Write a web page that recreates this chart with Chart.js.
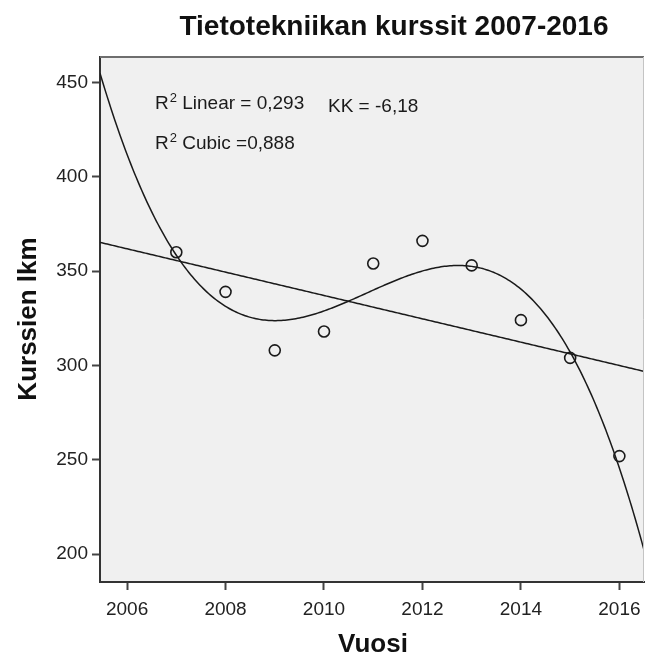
<!DOCTYPE html>
<html>
<head>
<meta charset="utf-8">
<script src="https://cdn.jsdelivr.net/npm/chart.js@4/dist/chart.umd.min.js"></script>
<style>
  html, body { margin: 0; padding: 0; background: #ffffff; overflow: hidden; }
  #wrap { width: 645px; height: 662px; }
</style>
</head>
<body>
<div id="wrap"><canvas id="c" width="645" height="662"></canvas></div>
<script>
// ---- Data ----
const years   = [2007, 2008, 2009, 2010, 2011, 2012, 2013, 2014, 2015, 2016];
const courses = [360, 339, 308, 318, 354, 366, 353, 324, 304, 252];
const xTicks  = [2006, 2008, 2010, 2012, 2014, 2016];
const yTicks  = [200, 250, 300, 350, 400, 450];
const xRange  = [2005.45, 2016.5];
const yRange  = [185.3, 463.4];
const titleText  = 'Tietotekniikan kurssit 2007-2016';
const xTitleText = 'Vuosi';
const yTitleText = 'Kurssien lkm';
const annoLinear = ['R', '2', ' Linear = 0,293'];
const annoCubic  = ['R', '2', ' Cubic =0,888'];
const annoSlope  = 'KK = -6,18';

// ---- Least-squares fits computed from the data (the reference's fit lines) ----
function polyFit(xs, ys, deg) {
  const x0 = xs.reduce((a, b) => a + b, 0) / xs.length;
  const n = deg + 1;
  const M = Array.from({length: n}, () => new Array(n).fill(0));
  const b = new Array(n).fill(0);
  xs.forEach((x, i) => {
    const u = x - x0;
    for (let r = 0; r < n; r++) {
      for (let c = 0; c < n; c++) M[r][c] += Math.pow(u, r + c);
      b[r] += Math.pow(u, r) * ys[i];
    }
  });
  for (let k = 0; k < n; k++) {
    let p = k;
    for (let r = k + 1; r < n; r++) if (Math.abs(M[r][k]) > Math.abs(M[p][k])) p = r;
    [M[k], M[p]] = [M[p], M[k]]; [b[k], b[p]] = [b[p], b[k]];
    for (let r = k + 1; r < n; r++) {
      const f = M[r][k] / M[k][k];
      for (let c = k; c < n; c++) M[r][c] -= f * M[k][c];
      b[r] -= f * b[k];
    }
  }
  const coef = new Array(n).fill(0);
  for (let k = n - 1; k >= 0; k--) {
    let s = b[k];
    for (let c = k + 1; c < n; c++) s -= M[k][c] * coef[c];
    coef[k] = s / M[k][k];
  }
  return x => coef.reduce((acc, cf, j) => acc + cf * Math.pow(x - x0, j), 0);
}
function sampleFit(fn) {
  const out = [];
  const N = 300;
  for (let i = 0; i <= N; i++) {
    const x = xRange[0] + (xRange[1] - xRange[0]) * i / N;
    out.push({x: x, y: fn(x)});
  }
  return out;
}
const linearFit = polyFit(years, courses, 1);
const cubicFit  = polyFit(years, courses, 3);

const FONT = '"Liberation Sans", Arial, Helvetica, sans-serif';
const AXIS = '#333333';

const framePlugin = {
  id: 'frame',
  beforeDraw(chart) {
    const {ctx, chartArea: a} = chart;
    ctx.save();
    ctx.fillStyle = '#f0f0f0';
    ctx.fillRect(a.left, a.top, a.right - a.left, a.bottom - a.top);
    ctx.restore();
  },
  afterDraw(chart) {
    const {ctx, chartArea: a} = chart;
    ctx.save();
    ctx.strokeStyle = '#6e6e6e';
    ctx.lineWidth = 2;
    ctx.beginPath();
    ctx.moveTo(a.left, a.top);
    ctx.lineTo(a.right, a.top);
    ctx.stroke();
    ctx.strokeStyle = '#c4c4c4';
    ctx.lineWidth = 1;
    ctx.beginPath();
    ctx.moveTo(a.right - 0.5, a.top);
    ctx.lineTo(a.right - 0.5, a.bottom);
    ctx.stroke();

    ctx.fillStyle = '#111111';
    ctx.font = 'bold 28px ' + FONT;
    ctx.textAlign = 'center';
    ctx.textBaseline = 'alphabetic';
    ctx.fillText(titleText, 394, 35);
    ctx.font = 'bold 26px ' + FONT;
    ctx.fillText(xTitleText, 373, 652);
    ctx.save();
    ctx.translate(36, 319);
    ctx.rotate(-Math.PI / 2);
    ctx.fillText(yTitleText, 0, 0);
    ctx.restore();

    ctx.fillStyle = '#1a1a1a';
    ctx.textAlign = 'left';
    function drawR2(parts, x, y) {
      ctx.font = '19px ' + FONT;
      ctx.fillText(parts[0], x, y);
      let w = ctx.measureText(parts[0]).width;
      ctx.font = '13px ' + FONT;
      ctx.fillText(parts[1], x + w + 1, y - 7);
      w += ctx.measureText(parts[1]).width + 1;
      ctx.font = '19px ' + FONT;
      ctx.fillText(parts[2], x + w, y);
    }
    drawR2(annoLinear, 155, 109);
    drawR2(annoCubic, 155, 149);
    ctx.font = '19px ' + FONT;
    ctx.fillText(annoSlope, 328, 112);
    ctx.restore();
  }
};

new Chart(document.getElementById('c'), {
  type: 'scatter',
  data: {
    datasets: [
      {
        label: 'Linear',
        data: sampleFit(linearFit),
        showLine: true,
        borderColor: '#1a1a1a',
        borderWidth: 1.5,
        pointRadius: 0,
        fill: false,
        tension: 0,
        order: 3
      },
      {
        label: 'Cubic',
        data: sampleFit(cubicFit),
        showLine: true,
        borderColor: '#1a1a1a',
        borderWidth: 1.5,
        pointRadius: 0,
        fill: false,
        tension: 0,
        order: 2
      },
      {
        label: 'Kurssit',
        data: years.map((y, i) => ({x: y, y: courses[i]})),
        pointStyle: 'circle',
        pointRadius: 5.5,
        pointBorderWidth: 1.6,
        pointBackgroundColor: 'rgba(0,0,0,0)',
        pointBorderColor: '#1a1a1a',
        showLine: false,
        order: 1
      }
    ]
  },
  options: {
    responsive: false,
    devicePixelRatio: 1,
    animation: false,
    layout: { autoPadding: false, padding: { top: 57, right: 1, left: 0, bottom: 0 } },
    plugins: {
      legend: { display: false },
      tooltip: { enabled: false },
      title: { display: false }
    },
    scales: {
      x: {
        type: 'linear',
        min: xRange[0],
        max: xRange[1],
        afterBuildTicks: axis => { axis.ticks = xTicks.map(v => ({value: v})); },
        afterFit: s => { s.height = 80; s.paddingLeft = 0; s.paddingRight = 0; },
        ticks: {
          font: { family: FONT, size: 19 },
          color: '#222222',
          padding: 8,
          maxRotation: 0,
          autoSkip: false,
          callback: v => String(v)
        },
        grid: {
          display: true,
          drawOnChartArea: false,
          drawTicks: true,
          tickLength: 8,
          tickWidth: 2,
          tickColor: '#444444',
          color: '#444444'
        },
        border: { display: true, color: AXIS, width: 2 }
      },
      y: {
        type: 'linear',
        min: yRange[0],
        max: yRange[1],
        afterBuildTicks: axis => { axis.ticks = yTicks.map(v => ({value: v})); },
        afterFit: s => { s.width = 100; s.paddingTop = 0; s.paddingBottom = 0; },
        ticks: {
          font: { family: FONT, size: 19 },
          color: '#222222',
          padding: 4,
          autoSkip: false,
          callback: v => String(v)
        },
        grid: {
          display: true,
          drawOnChartArea: false,
          drawTicks: true,
          tickLength: 8,
          tickWidth: 2,
          tickColor: '#444444',
          color: '#444444'
        },
        border: { display: true, color: AXIS, width: 2 }
      }
    }
  },
  plugins: [framePlugin]
});
</script>
</body>
</html>
